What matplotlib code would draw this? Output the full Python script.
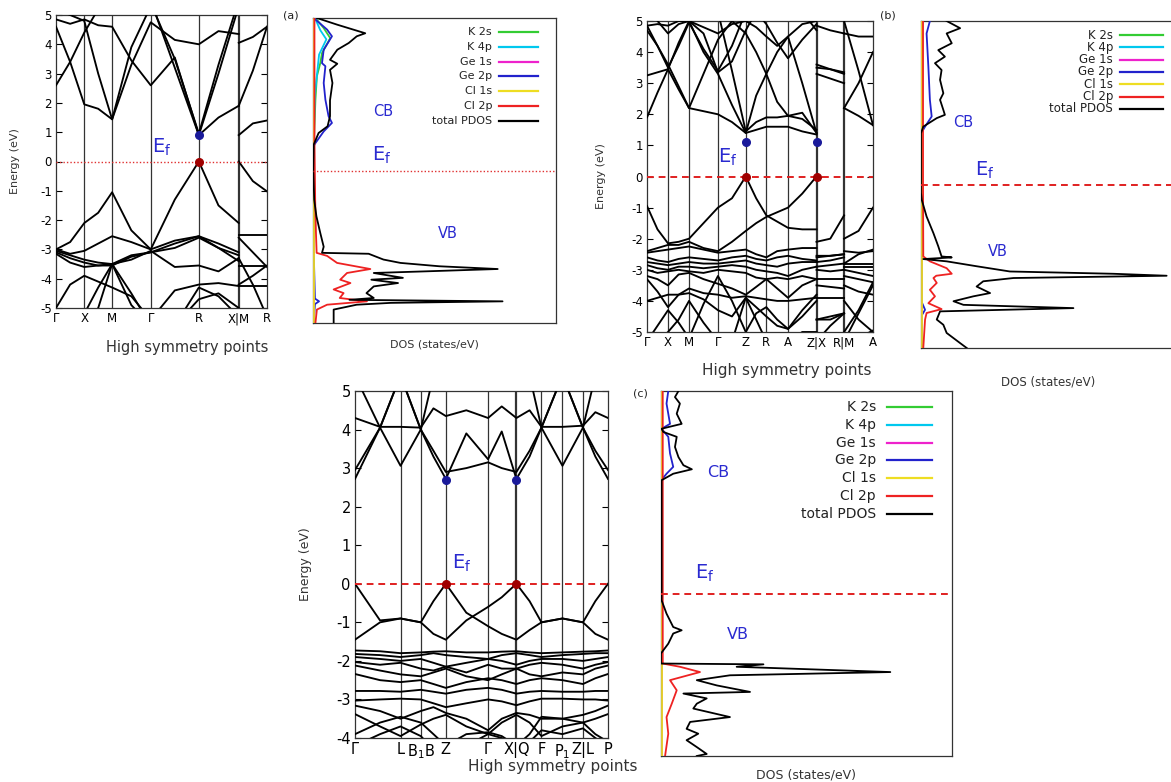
import numpy as np
import matplotlib
matplotlib.use("Agg")
import matplotlib.pyplot as plt

plt.rcParams['font.family'] = ['DejaVu Sans']
plt.rcParams['axes.unicode_minus'] = False

# ------------------------------------------------------------------ data
# ---- panel (a): band structure
kticks_a = [0, 0.134, 0.266, 0.449, 0.677, 0.866, 1.0]
klabels_a = ['Γ', 'X', 'M', 'Γ', 'R', 'X|M', 'R']
ksamp_a = [0, .067, .134, .2, .266, .357, .449, .563, .677, .77, .866, .866, .933, 1.0]
bands_a = [
    [2.6, 3.4, 4.4, 5.2, 5.6, 5.6, 5.6, 5.6, 5.6, 5.6, 5.6, 0.9, 1.3, 1.4],
    [4.6, 3.4, 1.95, 1.8, 1.44, 3.9, 5.3, 5.6, 5.6, 5.6, 5.6, 1.9, 3.1, 4.6],
    [5.2, 5.0, 4.8, 3.0, 1.44, 3.3, 4.75, 4.15, 4.0, 4.45, 4.35, 4.05, 4.25, 4.6],
    [4.85, 4.7, 4.85, 4.65, 4.6, 3.45, 2.6, 3.55, 0.9, 1.5, 1.9, 5.6, 5.6, 5.6],
    [5.6, 5.6, 5.6, 5.6, 5.6, 5.6, 5.5, 3.2, 0.9, 3.0, 5.3, 5.6, 5.6, 5.6],
    [5.6, 5.6, 5.6, 5.6, 5.6, 5.6, 5.4, 3.5, 0.95, 3.3, 5.5, 5.6, 5.6, 5.6],
    [-3.0, -2.75, -2.1, -1.75, -1.05, -2.35, -3.0, -1.3, 0.0, -1.5, -2.1, 0.0, -0.67, -1.02],
    [-3.0, -3.15, -3.05, -2.8, -2.55, -2.75, -3.0, -2.7, -2.55, -2.8, -3.1, -2.52, -2.52, -2.52],
    [-3.05, -3.2, -3.35, -3.45, -3.5, -3.35, -3.05, -3.6, -3.55, -3.75, -3.3, -3.55, -3.55, -3.55],
    [-3.1, -3.3, -3.45, -3.55, -3.55, -3.25, -3.1, -2.95, -2.6, -2.95, -3.2, -2.6, -3.1, -3.6],
    [-3.15, -3.45, -3.6, -3.55, -3.5, -3.2, -3.1, -2.8, -2.55, -2.95, -3.4, -4.2, -3.9, -3.55],
    [-5.0, -4.2, -3.9, -4.1, -4.3, -4.6, -5.4, -4.4, -4.2, -4.15, -4.25, -4.25, -4.25, -4.25],
    [-5.6, -5.6, -5.6, -5.0, -3.5, -4.5, -5.6, -5.6, -4.7, -4.5, -5.0, -3.3, -4.2, -5.3],
    [-5.6, -5.6, -5.2, -4.3, -3.5, -4.9, -5.6, -5.6, -4.3, -4.6, -5.3, -5.6, -5.6, -5.6],
]
cbm_a_k, cbm_a_E = [0.677], [0.9]
vbm_a_k, vbm_a_E = [0.677], [0.0]

# ---- panel (b): band structure
kticks_b = [0, .093, .186, .314, .437, .528, .624, .75, .872, 1.0]
klabels_b = ['Γ', 'X', 'M', 'Γ', 'Z', 'R', 'A', 'Z|X', 'R|M', 'A']
ksamp_b = [0, .0465, .093, .14, .186, .25, .314, .376, .437, .483, .528,
           .576, .624, .687, .75, .75, .811, .872, .872, .936, 1.0]
bands_b = [
    [1.9, 2.7, 3.45, 2.8, 2.2, 2.1, 2.0, 1.75, 1.4, 1.5, 1.6, 1.6, 1.6, 1.45, 1.35, 3.5, 3.45, 3.35, 2.2, 1.95, 1.65],
    [3.25, 3.35, 3.45, 4.3, 5.0, 4.0, 3.3, 2.3, 1.4, 2.6, 3.3, 4.0, 4.5, 3.0, 1.4, 3.3, 3.15, 3.0, 5.0, 3.4, 1.65],
    [4.7, 4.2, 3.6, 2.9, 2.2, 3.3, 4.4, 5.0, 4.6, 4.0, 3.3, 2.4, 1.95, 1.85, 1.5, 4.85, 4.7, 4.6, 4.6, 4.5, 4.5],
    [4.85, 4.9, 4.85, 5.0, 5.0, 4.6, 3.35, 3.7, 4.7, 5.3, 5.5, 5.5, 5.5, 5.3, 4.7, 5.5, 5.5, 5.5, 5.5, 5.5, 5.5],
    [5.5, 5.0, 4.6, 4.9, 5.0, 4.8, 4.6, 4.9, 5.0, 4.8, 4.5, 4.2, 4.5, 4.9, 5.0, 5.5, 5.5, 5.5, 5.5, 5.5, 5.5],
    [5.5, 5.5, 5.5, 5.5, 5.5, 5.5, 5.3, 3.4, 1.45, 1.75, 1.9, 1.9, 1.95, 2.05, 1.4, 5.5, 5.5, 5.5, 5.5, 5.5, 5.5],
    [4.85, 4.2, 3.5, 4.2, 4.95, 4.1, 3.4, 4.2, 5.3, 5.3, 4.9, 4.3, 3.8, 4.4, 4.9, 3.6, 3.45, 3.3, 2.2, 3.0, 4.0],
    [-0.95, -1.7, -2.15, -2.1, -2.0, -1.5, -1.0, -0.7, 0.0, -0.7, -1.25, -1.45, -1.65, -1.7, -1.7, -2.1, -2.0, -1.25, -2.0, -1.75, -1.0],
    [-2.4, -2.3, -2.2, -2.2, -2.1, -2.3, -2.4, -2.1, -1.75, -1.5, -1.3, -1.15, -1.0, -0.55, 0.0, -2.55, -2.55, -2.5, -2.8, -2.5, -2.35],
    [-2.45, -2.4, -2.35, -2.3, -2.25, -2.35, -2.45, -2.4, -2.35, -2.5, -2.6, -2.4, -2.35, -2.3, -2.3, -2.6, -2.55, -2.5, -2.4, -2.45, -2.4],
    [-2.6, -2.7, -2.75, -2.65, -2.6, -2.65, -2.7, -2.6, -2.55, -2.65, -2.7, -2.6, -2.55, -2.65, -2.7, -2.75, -2.7, -2.6, -2.8, -2.8, -2.8],
    [-2.75, -2.8, -2.85, -2.8, -2.75, -2.8, -2.8, -2.75, -2.7, -2.8, -2.85, -2.9, -2.8, -2.75, -2.75, -2.9, -2.85, -2.8, -2.9, -2.9, -2.9],
    [-2.85, -2.95, -3.0, -2.9, -2.9, -2.95, -2.9, -2.85, -2.9, -3.0, -3.05, -3.1, -3.2, -3.0, -2.9, -3.0, -3.05, -3.0, -3.0, -3.1, -3.2],
    [-3.0, -3.1, -3.05, -3.0, -3.05, -3.1, -3.0, -3.05, -3.1, -3.25, -3.3, -3.25, -3.3, -3.2, -3.3, -3.3, -3.3, -3.3, -3.2, -3.3, -3.4],
    [-3.2, -3.3, -3.5, -3.15, -3.1, -3.3, -3.45, -3.6, -3.8, -3.55, -3.3, -3.6, -3.9, -3.5, -3.3, -3.5, -3.55, -3.6, -3.5, -3.7, -3.8],
    [-3.3, -3.7, -4.2, -3.8, -3.6, -3.75, -3.8, -3.9, -3.85, -3.9, -3.95, -4.0, -4.0, -3.95, -3.9, -3.9, -3.9, -3.9, -4.0, -4.6, -5.0],
    [-4.0, -3.9, -3.8, -3.8, -3.75, -3.95, -4.3, -4.5, -3.9, -4.2, -4.5, -4.8, -4.9, -4.3, -3.8, -4.6, -4.5, -4.4, -5.0, -4.3, -3.4],
    [-5.3, -4.8, -4.3, -4.7, -5.2, -4.1, -3.2, -4.0, -5.0, -4.4, -4.2, -4.6, -4.9, -4.5, -4.0, -5.3, -4.8, -4.4, -5.3, -4.4, -3.5],
    [-5.3, -5.3, -5.0, -4.6, -4.0, -4.7, -5.3, -5.3, -3.9, -4.6, -5.3, -5.3, -5.3, -5.0, -5.0, -4.6, -4.6, -4.4, -5.3, -5.2, -4.95],
]
cbm_b_k, cbm_b_E = [0.437, 0.75], [1.1, 1.1]
vbm_b_k, vbm_b_E = [0.437, 0.75], [0.0, 0.0]

# ---- panel (c): band structure
kticks_c = [0, .18, .26, .359, .526, .638, .737, .82, .901, 1.0]
klabels_c = ['Γ', 'L', 'B$_1$B', 'Z', 'Γ', 'X|Q', 'F', 'P$_1$', 'Z|L', 'P']
ksamp_c = [0, .099, .18, .26, .31, .359, .44, .526, .58, .638, .69, .737, .82, .901, .95, 1.0]
bands_c = [
    [2.72, 4.05, 3.06, 4.0, 3.3, 2.72, 3.9, 3.23, 3.95, 2.72, 3.3, 4.05, 3.06, 4.05, 3.3, 2.72],
    [2.95, 4.05, 5.4, 4.0, 3.45, 2.9, 3.0, 3.15, 3.0, 2.9, 3.45, 4.05, 5.4, 4.05, 3.45, 2.95],
    [4.3, 4.07, 4.07, 4.05, 4.55, 4.35, 4.5, 4.3, 4.6, 4.3, 4.5, 4.07, 4.07, 4.1, 4.45, 4.3],
    [5.4, 4.05, 5.4, 4.0, 5.4, 5.4, 5.4, 5.4, 5.4, 5.4, 5.4, 4.05, 5.4, 4.05, 5.4, 5.4],
    [0.0, -0.95, -0.9, -1.0, -0.45, 0.0, -0.75, -1.1, -1.3, -1.45, -1.2, -1.0, -0.9, -1.0, -0.45, 0.0],
    [-1.45, -1.0, -0.9, -1.0, -1.3, -1.45, -0.95, -0.6, -0.35, 0.0, -0.45, -1.0, -0.9, -1.0, -1.3, -1.45],
    [-1.73, -1.75, -1.8, -1.78, -1.76, -1.75, -1.78, -1.78, -1.76, -1.75, -1.78, -1.8, -1.78, -1.76, -1.75, -1.73],
    [-1.82, -1.85, -1.9, -1.85, -1.8, -1.85, -1.9, -1.95, -1.85, -1.8, -1.85, -1.9, -1.85, -1.82, -1.8, -1.8],
    [-1.9, -1.95, -2.0, -1.95, -2.05, -2.15, -2.05, -1.95, -2.0, -2.1, -2.0, -1.95, -1.95, -2.0, -1.95, -1.9],
    [-2.03, -2.1, -2.05, -2.2, -2.25, -2.15, -2.3, -2.1, -2.2, -2.2, -2.1, -2.05, -2.1, -2.2, -2.1, -2.03],
    [-2.12, -2.25, -2.35, -2.4, -2.3, -2.2, -2.4, -2.5, -2.35, -2.2, -2.35, -2.4, -2.3, -2.35, -2.2, -2.12],
    [-2.34, -2.5, -2.55, -2.5, -2.6, -2.7, -2.55, -2.45, -2.5, -2.6, -2.5, -2.45, -2.5, -2.6, -2.45, -2.34],
    [-2.78, -2.78, -2.8, -2.75, -2.8, -2.85, -2.75, -2.7, -2.75, -2.85, -2.8, -2.78, -2.8, -2.8, -2.78, -2.78],
    [-3.03, -3.0, -2.98, -3.0, -3.1, -3.2, -3.1, -3.0, -3.05, -3.15, -3.05, -2.98, -2.98, -3.0, -3.0, -3.03],
    [-3.16, -3.3, -3.5, -3.3, -3.2, -3.35, -3.5, -3.8, -3.5, -3.35, -3.4, -3.5, -3.5, -3.4, -3.3, -3.16],
    [-3.38, -3.7, -3.95, -3.65, -3.5, -3.4, -3.7, -3.9, -3.6, -3.4, -3.6, -3.95, -3.7, -3.6, -3.5, -3.38],
    [-3.9, -3.6, -3.45, -3.6, -3.9, -4.2, -3.9, -3.85, -3.95, -4.2, -3.9, -3.45, -3.5, -3.6, -3.9, -4.1],
    [-4.2, -3.9, -3.7, -3.95, -4.3, -4.4, -4.2, -3.9, -4.0, -4.3, -4.1, -3.8, -3.9, -3.75, -4.0, -4.2],
]
cbm_c_k, cbm_c_E = [0.359, 0.638], [2.7, 2.7]
vbm_c_k, vbm_c_E = [0.359, 0.638], [0.0, 0.0]

# ---- PDOS (arbitrary units 0-100), energies in eV
pdos_labels = ['K 2s', 'K 4p', 'Ge 1s', 'Ge 2p', 'Cl 1s', 'Cl 2p', 'total PDOS']
pdos_colors = ['#33cc33', '#00c8ee', '#ee22cc', '#2222cc', '#eedd22', '#ee2222', '#000000']

# (a)
dosa_E_tot = [5.0, 4.78, 4.5, 4.4, 4.18, 3.96, 3.63, 3.5, 3.3, 2.87, 2.3, 1.78, 1.45, 1.23, 0.85,
              0.0, -0.96, -1.5, -2.05, -2.5, -2.70, -2.73, -2.92, -3.03, -3.14, -3.23, -3.31,
              -3.36, -3.52, -3.58, -3.69, -3.8, -4.02, -4.18, -4.24, -4.29, -4.34, -4.4, -4.56, -5.0]
dosa_tot = [1.6, 10, 21.5, 18, 14.7, 10, 7, 10, 7, 8, 7, 7, 6, 2.3, 0.3,
            0.1, 0.5, 1.4, 3, 4.4, 3.7, 22.9, 29, 36, 52, 76, 45,
            25, 37, 24, 35, 25, 22, 25, 15, 78, 32, 18, 8.5, 8.5]
dosa_E_k2s = [5.0, 4.67, 4.34, 3.85, 3.52, 3.09, 2.32, 1.23, 0.79, -5.0]
dosa_k2s = [1.0, 4.4, 7.1, 3.7, 3.0, 1.6, 1.0, 0.5, 0.1, 0.1]
dosa_E_k4p = [5.0, 4.6, 4.3, 3.8, 2.5, 0.8, -5.0]
dosa_k4p = [0.8, 3.0, 5.5, 2.5, 0.8, 0.2, 0.2]
dosa_E_ge1s = [5.0, -5.0]
dosa_ge1s = [0.3, 0.3]
dosa_E_ge2p = [5.0, 4.62, 4.4, 3.96, 3.52, 3.42, 2.87, 2.32, 1.78, 1.56, 1.28, 0.9, 0.79, -2.7, -4.2, -4.29, -4.38, -5.0]
dosa_ge2p = [0.3, 5.8, 7.8, 4.4, 3.7, 5.1, 4.4, 5.1, 6.4, 7.8, 4.4, 1.0, 0.2, 0.3, 0.8, 2.5, 0.8, 0.3]
dosa_E_cl1s = [5.0, -5.0]
dosa_cl1s = [0.5, 0.5]
dosa_E_cl2p = [5.0, 1.0, -1.0, -2.0, -2.7, -2.8, -3.03, -3.23, -3.36, -3.58, -3.69, -3.9, -4.02, -4.18, -4.29, -4.4, -4.56, -5.0]
dosa_cl2p = [0.6, 0.6, 0.9, 1.2, 1.5, 5.8, 9.9, 23.6, 14, 11.2, 15.4, 8.5, 12.6, 11, 22.2, 5.8, 1.6, 1.0]

# (b)
dosb_E_tot = [5.0, 4.78, 4.62, 4.32, 4.11, 3.91, 3.71, 3.5, 3.2, 2.79, 2.59, 2.28, 2.13, 2.03, 1.77, 1.57,
              -0.26, -0.47, -0.98, -1.49, -1.89, -2.2, -2.23, -2.28, -2.35, -2.5, -2.66, -2.73, -2.79,
              -2.86, -2.96, -3.12, -3.32, -3.42, -3.57, -3.68, -3.78, -3.88, -4.13, -4.29, -4.54, -4.85, -5.0]
dosb_tot = [10.1, 15.4, 10.1, 12.1, 6.8, 9.4, 5.5, 8.1, 7.5, 8.8, 7.5, 8.8, 9.4, 6.2, 0.9, 0.0,
            0.0, 0.3, 2.2, 4.9, 6.8, 8.1, 12.1, 0.9, 10.1, 21.9, 35, 75.7, 96.7,
            36.4, 24.5, 21.9, 27.2, 20.6, 12.8, 16.7, 60, 7.5, 6.2, 8.8, 10.1, 15.4, 18]
dosb_E_ge2p = [5.0, 4.62, 3.6, 2.59, 2.08, 1.77, 1.57, -3.6, -3.83, -4.0, -5.0]
dosb_ge2p = [3.5, 2.2, 2.9, 3.5, 4.2, 1.6, 0.1, 0.3, 1.6, 0.3, 0.3]
dosb_E_cl2p = [5.0, 0.0, -2.2, -2.35, -2.56, -2.73, -2.79, -2.86, -3.01, -3.22, -3.42, -3.63, -3.81, -3.93, -4.13, -5.0]
dosb_cl2p = [0.8, 0.8, 0.9, 3.5, 10.1, 12.1, 6.0, 4.9, 6.2, 3.5, 5.5, 2.9, 8.1, 2.2, 1.6, 0.9]
dosb_E_small = [5.0, -5.0]
dosb_k2s = [0.3, 0.3]
dosb_k4p = [0.4, 0.4]
dosb_ge1s = [0.2, 0.2]
dosb_cl1s = [0.5, 0.5]

# (c)
dosc_E_tot = [5.0, 4.85, 4.69, 4.44, 4.19, 4.07, 3.99, 3.87, 3.62, 3.37, 3.17, 3.07, 2.96, 2.8,
              -0.16, -0.49, -0.82, -0.9, -0.98, -1.23, -1.47, -1.72, -1.74, -1.8, -1.93, -2.01,
              -2.13, -2.26, -2.42, -2.46, -2.58, -2.71, -2.83, -3.04, -3.16, -3.33, -3.45, -3.61,
              -3.78, -3.95, -4.0]
dosc_tot = [6.0, 4.8, 6.5, 5.4, 7.1, 0.2, 0.8, 5.4, 4.8, 6.0, 7.7, 10.6, 4.2, 0.2,
            0.2, 1.9, 4.2, 7.1, 4.2, 2.5, 0.0, 0.0, 35.2, 26, 78.8, 23.7,
            12.3, 19.2, 30.6, 7.7, 15.7, 12.3, 11.1, 23.7, 10, 8.8, 12.8, 8.8,
            12.3, 15.7, 12.3]
dosc_E_ge2p = [5.0, 4.69, 4.19, 4.07, 3.87, 3.46, 3.13, 2.96, 2.8, -4.0]
dosc_ge2p = [2.5, 1.9, 3.1, 0.2, 2.5, 3.1, 4.2, 1.9, 0.1, 0.1]
dosc_E_cl2p = [5.0, -1.72, -1.8, -1.93, -2.13, -2.38, -2.71, -3.04, -3.45, -4.0]
dosc_cl2p = [0.6, 0.6, 6.5, 13.4, 3.1, 5.4, 3.7, 1.9, 2.5, 1.4]
dosc_E_small = [5.0, -4.0]
dosc_k2s = [0.3, 0.3]
dosc_k4p = [0.4, 0.4]
dosc_ge1s = [0.2, 0.2]
dosc_cl1s = [0.5, 0.5]

# ------------------------------------------------------------------ figure
W, H = 1171, 782
fig = plt.figure(figsize=(W / 100, H / 100), dpi=100)


def px_axes(x0, y0, x1, y1):
    return fig.add_axes([x0 / W, 1 - y1 / H, (x1 - x0) / W, (y1 - y0) / H])


BLUE_TXT = '#2a2ad0'


def band_panel(ax, ksamp, bands, kticks, klabels, ylim, fs, breaks,
               cbk, cbe, vbk, vbe, ef_style, ef_pos, xlab_pos, ylab_x, xlab_fs, ylab_fs):
    k = np.asarray(ksamp, float)
    brk = list(np.where(np.diff(k) == 0)[0] + 1)
    edges = [0] + brk + [len(k)]
    for b in bands:
        b = np.asarray(b, float)
        for s, e in zip(edges[:-1], edges[1:]):
            ax.plot(k[s:e], b[s:e], color='k', lw=1.35, solid_joinstyle='round', zorder=3)
    for x in kticks[1:-1]:
        ax.axvline(x, color='#333333', lw=1.6 if x in breaks else 0.9, zorder=2)
    if ef_style == 'dot':
        ax.axhline(0, color='#e03030', lw=1.0, ls=(0, (1, 1.5)), zorder=4)
    else:
        ax.axhline(0, color='#e02020', lw=1.4, ls=(0, (3.5, 2.5)), zorder=4)
    ax.plot(cbk, cbe, 'o', color='#1a1a9a', ms=5.5, zorder=5)
    ax.plot(vbk, vbe, 'o', color='#a00000', ms=5.5, zorder=5)
    ax.set_xlim(0, 1)
    ax.set_ylim(*ylim)
    ax.set_yticks(range(ylim[0], ylim[1] + 1))
    ax.set_xticks(kticks)
    ax.set_xticklabels(klabels)
    ax.tick_params(axis='x', length=0, pad=3, labelsize=fs)
    ax.tick_params(axis='y', direction='in', right=True, length=4, labelsize=fs, pad=3)
    for sp in ax.spines.values():
        sp.set_linewidth(0.9)
        sp.set_color('#333333')
    ax.set_xlabel('High symmetry points', fontsize=xlab_fs, color='#333333')
    ax.xaxis.set_label_coords(*xlab_pos)
    ax.set_ylabel('Energy (eV)', fontsize=ylab_fs, color='#333333')
    ax.yaxis.set_label_coords(ylab_x, 0.5)
    ax.text(ef_pos[0], ef_pos[1], 'E$_\\mathregular{f}$', color=BLUE_TXT, fontsize=14,
            ha='center', va='center', zorder=6)


def dos_panel(ax, series, ylim, ef_style, leg, texts, xlab_y, xlab_fs, xmax=100):
    for (E, D), lab, col in zip(series, pdos_labels, pdos_colors):
        ax.plot(D, E, color=col, lw=1.3, label=lab, zorder=3 if col != '#000000' else 4)
    if ef_style == 'dot':
        ax.axhline(0, color='#e03030', lw=1.0, ls=(0, (1, 1.5)), zorder=5)
    else:
        ax.axhline(0, color='#e02020', lw=1.4, ls=(0, (3.5, 2.5)), zorder=5)
    ax.set_xlim(0, xmax)
    ax.set_ylim(*ylim)
    ax.set_xticks([])
    ax.set_yticks([])
    for sp in ax.spines.values():
        sp.set_linewidth(0.9)
        sp.set_color('#333333')
    ax.set_xlabel('DOS (states/eV)', fontsize=xlab_fs, color='#333333')
    ax.xaxis.set_label_coords(0.5, xlab_y)
    # legend (text right-aligned, sample line to the right)
    xt, x0, x1, y0, dy, fs = leg
    for i, (lab, col) in enumerate(zip(pdos_labels, pdos_colors)):
        y = y0 - i * dy
        ax.text(xt, y, lab, transform=ax.transAxes, ha='right', va='center',
                fontsize=fs, color='#222222')
        ax.plot([x0, x1], [y, y], transform=ax.transAxes, color=col, lw=1.6)
    (cbx, cby, cbfs), (efx, efy), (vbx, vby) = texts
    ax.text(cbx, cby, 'CB', transform=ax.transAxes, color=BLUE_TXT, fontsize=cbfs, ha='center', va='center')
    ax.text(vbx, vby, 'VB', transform=ax.transAxes, color=BLUE_TXT, fontsize=cbfs, ha='center', va='center')
    ax.text(efx, efy, 'E$_\\mathregular{f}$', transform=ax.transAxes, color=BLUE_TXT, fontsize=14,
            ha='center', va='center')


# ---- (a)
ax_ab = px_axes(56, 15, 267, 308)
band_panel(ax_ab, ksamp_a, bands_a, kticks_a, klabels_a, (-5, 5), 8.5, [0.866],
           cbm_a_k, cbm_a_E, vbm_a_k, vbm_a_E, 'dot', (0.50, 0.50),
           (0.62, -0.11), -0.17, 10.5, 8)
ax_ad = px_axes(313, 18, 556, 323)
dos_panel(ax_ad,
          [(dosa_E_k2s, dosa_k2s), (dosa_E_k4p, dosa_k4p), (dosa_E_ge1s, dosa_ge1s),
           (dosa_E_ge2p, dosa_ge2p), (dosa_E_cl1s, dosa_cl1s), (dosa_E_cl2p, dosa_cl2p),
           (dosa_E_tot, dosa_tot)],
          (-5, 5), 'dot', (0.737, 0.765, 0.926, 0.954, 0.0485, 8),
          ((0.288, 0.692, 10.5), (0.284, 0.551), (0.556, 0.295)), -0.055, 8)

# ---- (b)
ax_bb = px_axes(647, 21, 873, 332)
band_panel(ax_bb, ksamp_b, bands_b, kticks_b, klabels_b, (-5, 5), 8.5, [0.75, 0.872],
           cbm_b_k, cbm_b_E, vbm_b_k, vbm_b_E, 'dash', (0.358, 0.63),
           (0.62, -0.10), -0.18, 11, 8)
ax_bd = px_axes(921, 21, 1175, 348)
dos_panel(ax_bd,
          [(dosb_E_small, dosb_k2s), (dosb_E_small, dosb_k4p), (dosb_E_small, dosb_ge1s),
           (dosb_E_ge2p, dosb_ge2p), (dosb_E_small, dosb_cl1s), (dosb_E_cl2p, dosb_cl2p),
           (dosb_E_tot, dosb_tot)],
          (-5, 5), 'dash', (0.756, 0.783, 0.953, 0.957, 0.0376, 8.5),
          ((0.165, 0.691, 10.5), (0.252, 0.544), (0.303, 0.294)), -0.085, 8.5)

# ---- (c)
ax_cb = px_axes(355, 391, 608, 738)
band_panel(ax_cb, ksamp_c, bands_c, kticks_c, klabels_c, (-4, 5), 10.5, [0.638],
           cbm_c_k, cbm_c_E, vbm_c_k, vbm_c_E, 'dash', (0.423, 0.54),
           (0.78, -0.06), -0.17, 11, 9)
ax_cd = px_axes(661, 391, 952, 756)
dos_panel(ax_cd,
          [(dosc_E_small, dosc_k2s), (dosc_E_small, dosc_k4p), (dosc_E_small, dosc_ge1s),
           (dosc_E_ge2p, dosc_ge2p), (dosc_E_small, dosc_cl1s), (dosc_E_cl2p, dosc_cl2p),
           (dosc_E_tot, dosc_tot)],
          (-4, 5), 'dash', (0.739, 0.777, 0.931, 0.956, 0.0488, 10),
          ((0.196, 0.778, 11.5), (0.151, 0.501), (0.265, 0.332)), -0.035, 9)

# panel tags
for tag, (x, y) in zip(['(a)', '(b)', '(c)'], [(291, 16), (888, 15), (640, 393)]):
    fig.text(x / W, 1 - y / H, tag, fontsize=8, ha='center', va='center', color='#222222')

fig.savefig('out.png', dpi=100)
